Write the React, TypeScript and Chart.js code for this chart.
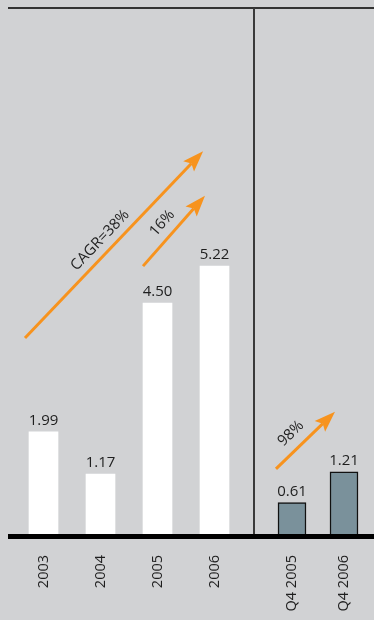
import React, { useEffect, useRef } from "react";
import { Chart, registerables } from "chart.js";

Chart.register(...registerables);

const annualLabels = ["2003", "2004", "2005", "2006"];
const annualValues = [1.99, 1.17, 4.5, 5.22];
const quarterLabels = ["Q4 2005", "Q4 2006"];
const quarterValues = [0.61, 1.21];

// annotation arrows, in data units (category index, value)
const annualArrows = [
  { from: [-0.325, 3.82], to: [2.8, 7.46], label: "CAGR=38%", t: 0.475, off: 13 },
  { from: [1.746, 5.22], to: [2.833, 6.59], label: "16%", t: 0.48, off: 14 },
];
const quarterArrows = [
  { from: [-0.308, 1.27], to: [0.827, 2.38], label: "98%", t: 0.43, off: 15 },
];

const Y_MAX = 10.25;
const FONT = '"Open Sans", "Noto Sans", sans-serif';
const ORANGE = "#f7931e";
const TEXT = "#1e1e1e";

type Arrow = { from: number[]; to: number[]; label: string; t: number; off: number };

function makePlugin(arrows: Arrow[], side: "left" | "right") {
  return {
    id: "decor" + side,
    afterDatasetsDraw(chart: any) {
      const ctx = chart.ctx as CanvasRenderingContext2D;
      const area = chart.chartArea;
      const xs = chart.scales.x;
      const ys = chart.scales.y;
      const w = chart.width;
      ctx.save();
      // top line
      ctx.fillStyle = "#333333";
      const x0 = side === "left" ? 8 : 0;
      ctx.fillRect(x0, area.top - 1, w - x0, 2);
      // divider
      if (side === "left") {
        ctx.fillStyle = "#3a3a3a";
        ctx.fillRect(w - 3, area.top, 2, area.bottom - area.top);
      }
      // baseline
      ctx.fillStyle = "#000000";
      ctx.fillRect(x0, area.bottom, w - x0, 5);

      // value labels
      ctx.fillStyle = TEXT;
      ctx.font = "15px " + FONT;
      ctx.textAlign = "center";
      ctx.textBaseline = "alphabetic";
      const meta = chart.getDatasetMeta(0);
      const data = chart.data.datasets[0].data as number[];
      meta.data.forEach((bar: any, i: number) => {
        ctx.fillText(data[i].toFixed(2), bar.x, bar.y - 7);
      });

      // arrows
      arrows.forEach((a) => {
        const x1 = xs.getPixelForValue(a.from[0]);
        const y1 = ys.getPixelForValue(a.from[1]);
        const x2 = xs.getPixelForValue(a.to[0]);
        const y2 = ys.getPixelForValue(a.to[1]);
        const ang = Math.atan2(y2 - y1, x2 - x1);
        const headLen = 21;
        const headHalf = 7.5;
        const notch = 4;
        const cos = Math.cos(ang);
        const sin = Math.sin(ang);
        const bx = x2 - cos * (headLen - notch);
        const by = y2 - sin * (headLen - notch);
        ctx.strokeStyle = ORANGE;
        ctx.lineWidth = 3;
        ctx.lineCap = "butt";
        ctx.beginPath();
        ctx.moveTo(x1, y1);
        ctx.lineTo(bx, by);
        ctx.stroke();
        ctx.fillStyle = ORANGE;
        ctx.beginPath();
        ctx.moveTo(x2, y2);
        const cx = x2 - cos * headLen;
        const cy = y2 - sin * headLen;
        ctx.lineTo(cx - sin * headHalf, cy + cos * headHalf);
        ctx.lineTo(bx, by);
        ctx.lineTo(cx + sin * headHalf, cy - cos * headHalf);
        ctx.closePath();
        ctx.fill();

        // label
        const px = x1 + (x2 - x1) * a.t + sin * a.off;
        const py = y1 + (y2 - y1) * a.t - cos * a.off;
        ctx.save();
        ctx.translate(px, py);
        ctx.rotate(ang);
        ctx.fillStyle = TEXT;
        ctx.font = "15px " + FONT;
        ctx.textAlign = "center";
        ctx.textBaseline = "middle";
        ctx.fillText(a.label, 0, 0);
        ctx.restore();
      });
      ctx.restore();
    },
  };
}

function makeConfig(
  labels: string[],
  values: number[],
  arrows: Arrow[],
  side: "left" | "right"
): any {
  const isLeft = side === "left";
  return {
    type: "bar",
    data: {
      labels,
      datasets: [
        {
          data: values,
          backgroundColor: isLeft ? "#ffffff" : "#7a919b",
          borderColor: isLeft ? "#ffffff" : "#111111",
          borderWidth: isLeft ? 0 : 1.5,
          borderSkipped: isLeft ? true : "bottom",
          barThickness: isLeft ? 29 : 28,
        },
      ],
    },
    options: {
      responsive: false,
      animation: false,
      devicePixelRatio: 1,
      layout: {
        padding: isLeft
          ? { left: 15, right: 13, top: 8, bottom: 0 }
          : { left: 10, right: 4, top: 8, bottom: 0 },
      },
      plugins: {
        legend: { display: false },
        tooltip: { enabled: false },
      },
      scales: {
        x: {
          type: "category",
          offset: true,
          grid: { display: false, drawTicks: false },
          border: { display: false },
          ticks: {
            autoSkip: false,
            minRotation: 90,
            maxRotation: 90,
            padding: 21,
            color: TEXT,
            font: { family: FONT, size: 14.5 },
          },
          afterFit: (scale: any) => {
            scale.height = 86;
            scale.paddingLeft = 0;
            scale.paddingRight = 0;
          },
        },
        y: {
          display: false,
          min: 0,
          max: Y_MAX,
        },
      },
    },
    plugins: [makePlugin(arrows, side)],
  };
}

export default function App() {
  const leftRef = useRef<HTMLCanvasElement>(null);
  const rightRef = useRef<HTMLCanvasElement>(null);

  useEffect(() => {
    const a = new Chart(
      leftRef.current as HTMLCanvasElement,
      makeConfig(annualLabels, annualValues, annualArrows, "left")
    );
    const b = new Chart(
      rightRef.current as HTMLCanvasElement,
      makeConfig(quarterLabels, quarterValues, quarterArrows, "right")
    );
    return () => {
      a.destroy();
      b.destroy();
    };
  }, []);

  return (
    <div
      style={{
        position: "fixed",
        left: 0,
        top: 0,
        width: 374,
        height: 620,
        background: "#d1d2d4",
        overflow: "hidden",
      }}
    >
      <canvas
        ref={leftRef}
        width={256}
        height={620}
        style={{ position: "absolute", left: 0, top: 0, width: 256, height: 620 }}
      />
      <canvas
        ref={rightRef}
        width={118}
        height={620}
        style={{ position: "absolute", left: 256, top: 0, width: 118, height: 620 }}
      />
    </div>
  );
}
